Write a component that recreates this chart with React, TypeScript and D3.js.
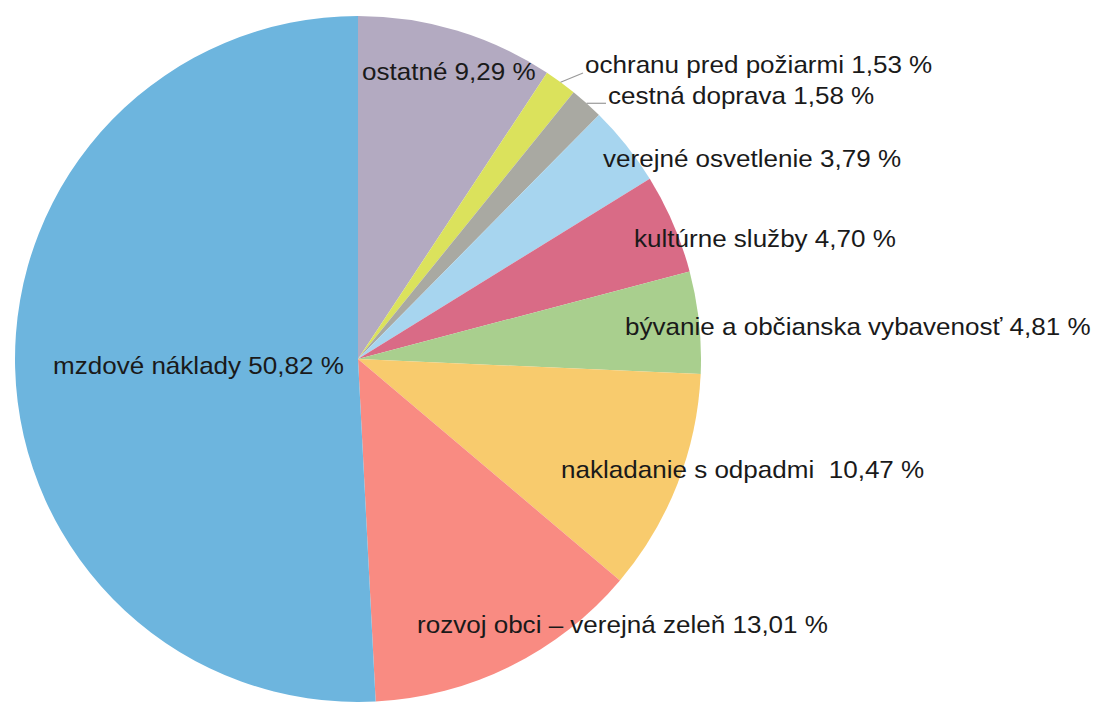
import React from "react";
import * as d3 from "d3";

const categories = [
  "ostatné",
  "ochranu pred požiarmi",
  "cestná doprava",
  "verejné osvetlenie",
  "kultúrne služby",
  "bývanie a občianska vybavenosť",
  "nakladanie s odpadmi ",
  "rozvoj obci – verejná zeleň",
  "mzdové náklady",
];
const values = [9.29, 1.53, 1.58, 3.79, 4.7, 4.81, 10.47, 13.01, 50.82];
const colors = [
  "#b3aac1",
  "#dbe25c",
  "#a9a9a2",
  "#a7d5ef",
  "#d96b86",
  "#a9cf8e",
  "#f8cb6d",
  "#f98b82",
  "#6db5de",
];

// label layout (x start, baseline y) and whether a leader line is drawn
const labelPos: [number, number][] = [
  [362, 80],
  [585, 73],
  [608, 104],
  [603, 167],
  [634, 247],
  [625, 335],
  [561, 478],
  [417, 633],
  [53, 374],
];
const leader = [false, true, true, false, false, false, false, false, false];

const W = 1099;
const H = 702;
const cx = 358;
const cy = 359;
const R = 343;
const FONT_SIZE = 24;
const STRETCH = 1.085;

function fmt(v: number) {
  return v.toFixed(2).replace(".", ",") + " %";
}

export default function App() {
  const data = categories.map((c, i) => ({ name: c, value: values[i], color: colors[i] }));
  const pie = d3
    .pie<any>()
    .sort(null)
    .value((d: any) => d.value)
    .startAngle(0)
    .endAngle(2 * Math.PI);
  const arcs = pie(data);
  const arc = d3.arc<any>().innerRadius(0).outerRadius(R);
  const edge = (a: number) => [Math.sin(a) * R, -Math.cos(a) * R];

  return (
    <div style={{ position: "fixed", left: 0, top: 0, background: "#fff" }}>
      <svg width={W} height={H} style={{ display: "block" }}>
        <rect width={W} height={H} fill="#fff" />
        <g transform={`translate(${cx},${cy})`}>
          {arcs.map((a, i) => (
            <path key={i} d={arc(a) as string} fill={a.data.color} />
          ))}
        </g>
        {arcs.map((a, i) => {
          if (!leader[i]) return null;
          const mid = (a.startAngle + a.endAngle) / 2;
          const [ex, ey] = edge(mid);
          const [lx, ly] = labelPos[i];
          const x1 = cx + ex;
          const y1 = cy + ey;
          const y2 = i === 1 ? ly : y1;
          return (
            <line
              key={"l" + i}
              x1={x1}
              y1={y1}
              x2={lx - 2}
              y2={y2}
              stroke="#9a9a9a"
              strokeWidth={1.2}
            />
          );
        })}
        {arcs.map((a, i) => {
          const [lx, ly] = labelPos[i];
          return (
            <text
              key={"t" + i}
              transform={`translate(${lx},${ly}) scale(${STRETCH},1)`}
              fontFamily="'Liberation Sans', Arial, sans-serif"
              fontSize={FONT_SIZE}
              fill="#1a1a1a"
              xmlSpace="preserve"
              style={{ whiteSpace: "pre" }}
            >
              {a.data.name + " " + fmt(a.data.value)}
            </text>
          );
        })}
      </svg>
    </div>
  );
}
